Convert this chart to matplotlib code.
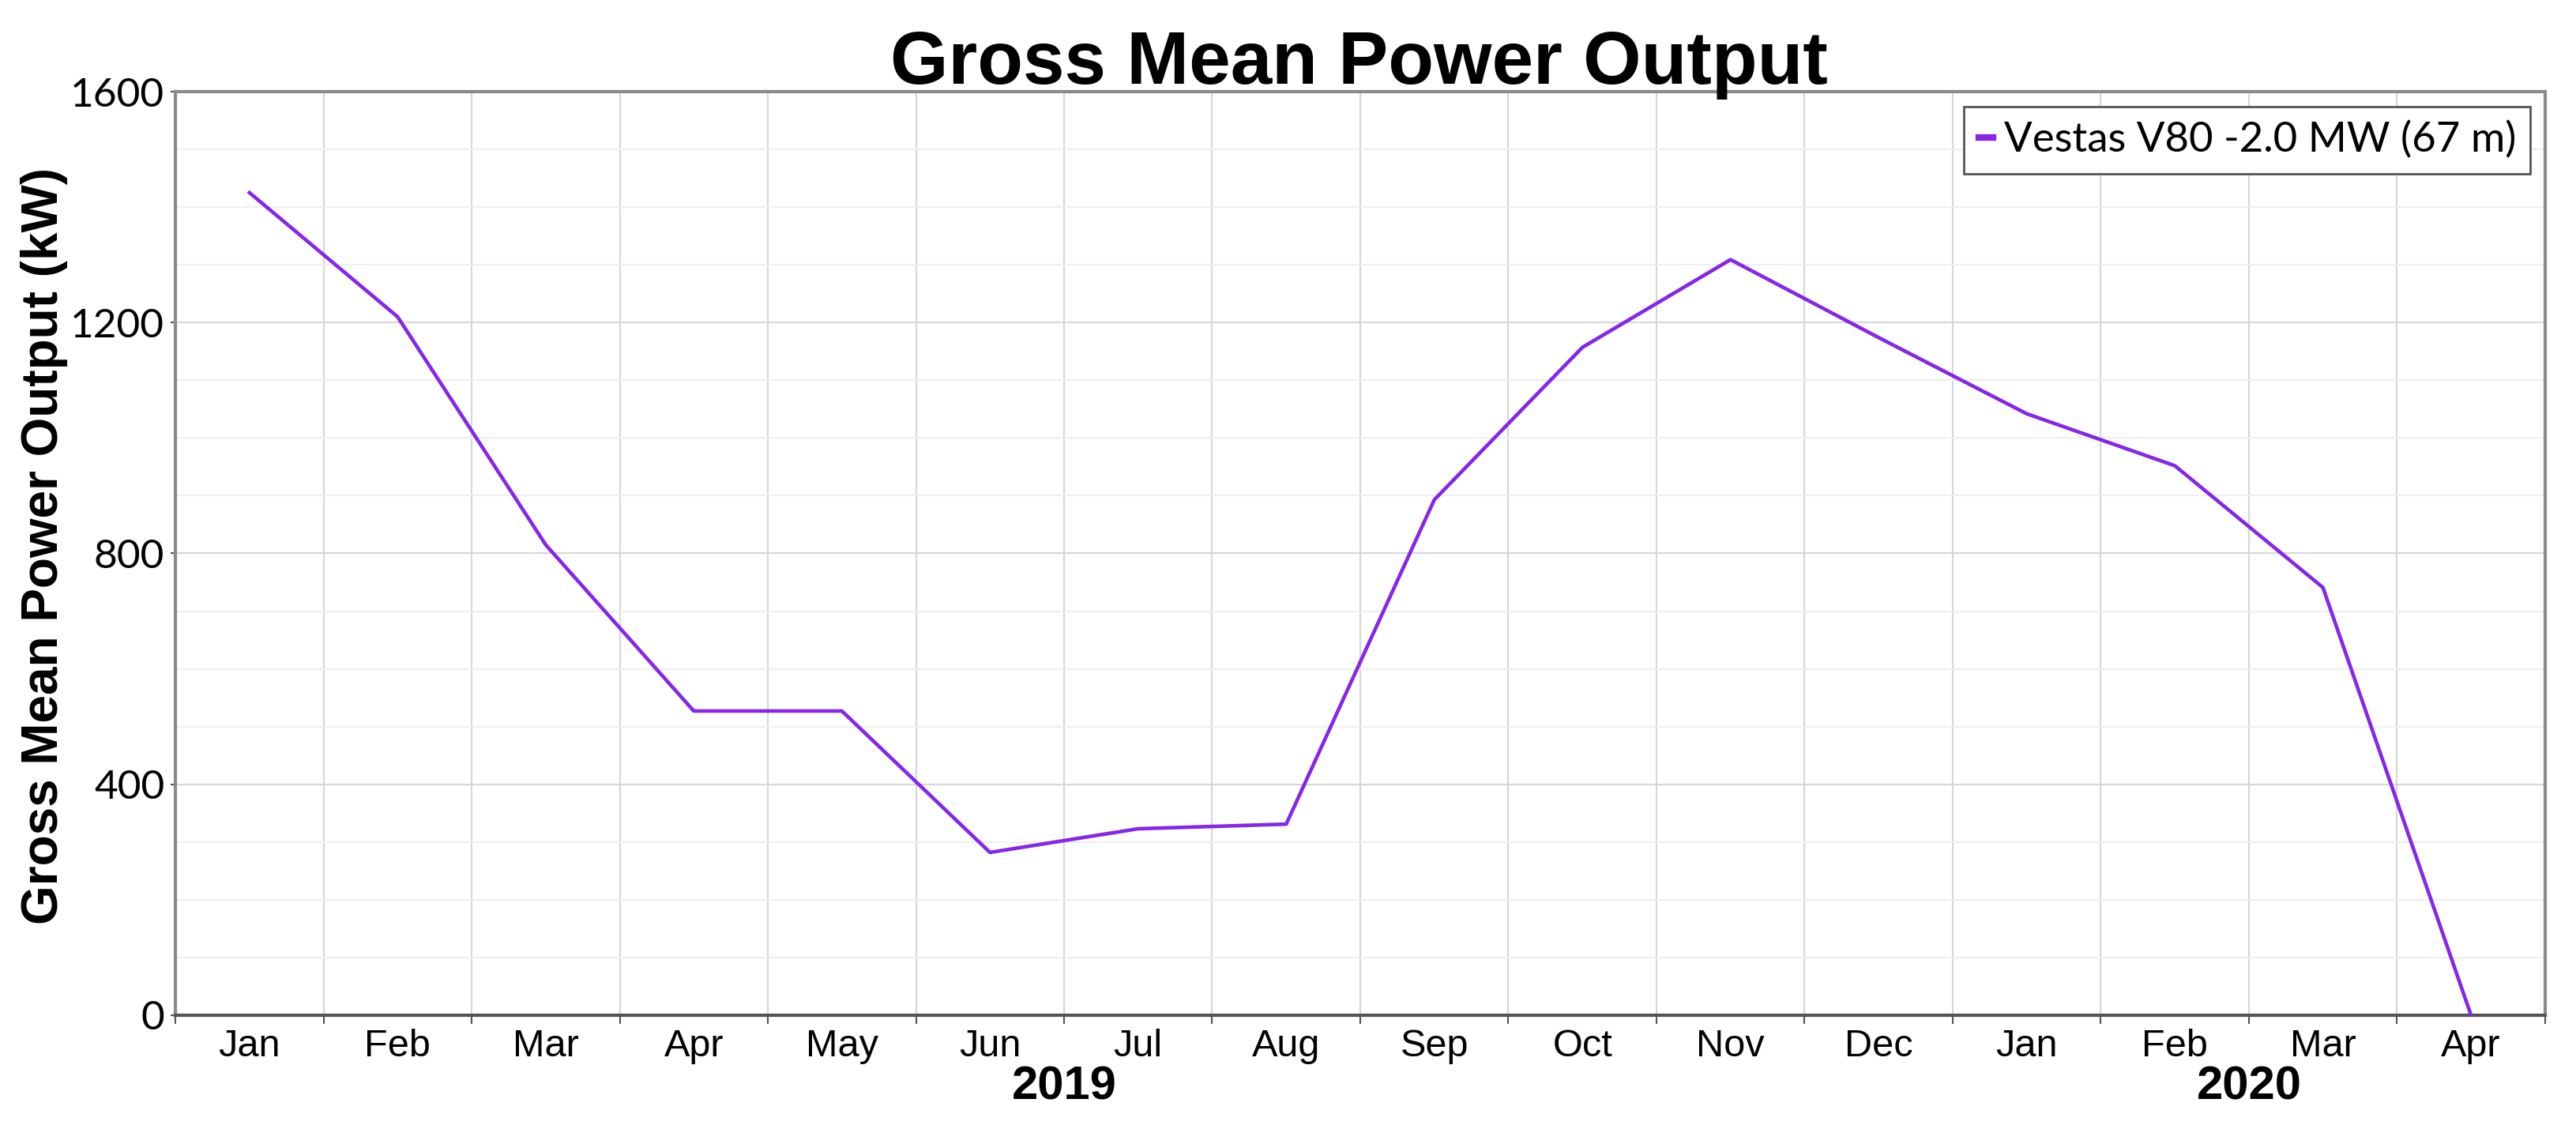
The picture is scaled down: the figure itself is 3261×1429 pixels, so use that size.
import numpy as np
import matplotlib
matplotlib.use("Agg")
import matplotlib.pyplot as plt
from matplotlib.ticker import MultipleLocator, FixedLocator, NullFormatter
import matplotlib.transforms as mtransforms

# monthly gross mean power output (kW)
months = ['Jan', 'Feb', 'Mar', 'Apr', 'May', 'Jun', 'Jul', 'Aug',
          'Sep', 'Oct', 'Nov', 'Dec', 'Jan', 'Feb', 'Mar', 'Apr']
power = [1425, 1210, 815, 527, 527, 282, 323, 331,
         893, 1157, 1309, 1174, 1042, 952, 741, 0]
years = ['2019', '2020']
year_span = [(0, 11), (12, 15)]
series_name = 'Vestas V80 -2.0 MW (67 m)'

plt.rcParams['font.family'] = ['Liberation Sans', 'DejaVu Sans']

fig = plt.figure(figsize=(32.61, 14.29), dpi=100)
ax = fig.add_axes([0.0681, 0.1008, 0.9199, 0.8180])

x = np.arange(len(months))
ax.plot(x, power, color='#8526e8', lw=3.3, label=series_name, zorder=3)

ax.set_xlim(-0.5, len(months) - 0.5)
ax.set_ylim(0, 1600)

# category boundaries -> gridlines + ticks, labels in the middle
ax.xaxis.set_major_locator(FixedLocator(np.arange(-0.5, len(months), 1)))
ax.xaxis.set_major_formatter(NullFormatter())
ax.xaxis.set_minor_locator(FixedLocator(x))
ax.set_xticklabels(months, minor=True)
ax.tick_params(axis='x', which='major', length=8, width=1.5, color='#555555')
ax.tick_params(axis='x', which='minor', length=0, pad=12, labelsize=35)

ax.yaxis.set_major_locator(MultipleLocator(400))
ax.yaxis.set_minor_locator(MultipleLocator(100))
ax.tick_params(axis='y', which='major', length=4, width=1.5, color='#555555',
               pad=6, labelsize=37)
ax.tick_params(axis='y', which='minor', length=0)
for lab in ax.get_yticklabels():
    lab.set_family(['Lato', 'DejaVu Sans'])

ax.grid(True, axis='x', which='major', color='#d6d6d6', lw=1.5)
ax.grid(True, axis='y', which='major', color='#d6d6d6', lw=1.5)
ax.grid(True, axis='y', which='minor', color='#efefef', lw=1.5)
ax.set_axisbelow(True)

for s in ax.spines.values():
    s.set_color('#8a8a8a')
    s.set_linewidth(3)
ax.spines['bottom'].set_color('#555555')

# year labels under the months
trans = mtransforms.blended_transform_factory(ax.transData, ax.transAxes)
for yr, (a, b) in zip(years, year_span):
    ax.text((a + b) / 2, -0.078, yr, transform=trans, ha='center', va='center',
            fontsize=43, fontweight='bold')

leg = ax.legend(loc='upper right', handlelength=0.35,
                handletextpad=0.25, borderpad=0.35, fancybox=False,
                framealpha=1, edgecolor='#555555', borderaxespad=0.35,
                prop={'family': ['Lato', 'DejaVu Sans'], 'size': 38})
leg.get_frame().set_linewidth(2)
for h in leg.get_lines():
    h.set_linewidth(6)

fig.text(0.5276, 0.9258, 'Gross Mean Power Output', ha='center', va='baseline',
         fontsize=68, fontweight='bold')
fig.text(0.0172, 0.5164, 'Gross Mean Power Output (kW)', rotation=90,
         ha='center', va='center', fontsize=46, fontweight='bold')

fig.savefig('out.png', dpi=100, facecolor='white')
